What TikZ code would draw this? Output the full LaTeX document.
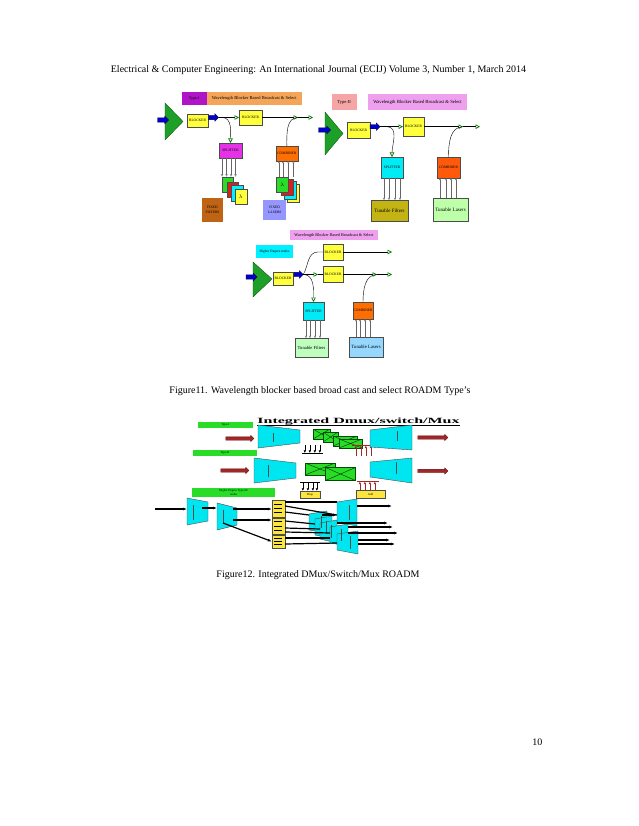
\documentclass[tikz,border=0pt]{standalone}
\usepackage{fontspec}
\setmainfont{Liberation Serif}
\usetikzlibrary{shapes.arrows,arrows.meta,calc}
\definecolor{typeone}{RGB}{176,20,200}
\definecolor{wborange}{RGB}{245,165,90}
\definecolor{typetwo}{RGB}{245,165,165}
\definecolor{wbviolet}{RGB}{238,160,238}
\definecolor{blkyellow}{RGB}{255,255,60}
\definecolor{splmag}{RGB}{230,50,230}
\definecolor{splcyan}{RGB}{0,235,245}
\definecolor{combor}{RGB}{255,110,0}
\definecolor{combred}{RGB}{255,90,10}
\definecolor{fixbrown}{RGB}{190,100,20}
\definecolor{fixlav}{RGB}{150,150,255}
\definecolor{tfolive}{RGB}{195,180,20}
\definecolor{tlgreen}{RGB}{190,255,170}
\definecolor{tfgreen}{RGB}{190,255,190}
\definecolor{tlblue}{RGB}{150,215,255}
\definecolor{hdcyan}{RGB}{0,240,255}
\definecolor{ampgreen}{RGB}{30,160,40}
\definecolor{arrblue}{RGB}{0,0,200}
\definecolor{tipgreen}{RGB}{0,120,0}
\definecolor{swgreen}{RGB}{40,220,40}
\definecolor{trapcyan}{RGB}{0,230,240}
\definecolor{redarr}{RGB}{160,40,40}
\definecolor{ycol}{RGB}{250,230,60}
\definecolor{lred}{RGB}{220,30,30}
\tikzset{
  wh/.style 2 args={minimum width=#1pt, minimum height=#2pt},
  box/.style={draw=black!70, line width=0.3pt, inner sep=0pt, outer sep=0pt, align=center, font=\fontsize{3.6}{4}\selectfont},
  tag/.style={fill=#1, inner sep=0pt, outer sep=0pt, align=center},
  amp/.style={draw=green!30!black, fill=ampgreen, line width=0.3pt},
  barr/.style={single arrow, draw=blue!30!black, fill=arrblue, minimum height=#1pt, inner sep=2pt, single arrow head extend=1.6pt, line width=0.3pt},
  rarr/.style={single arrow, draw=red!40!black, fill=redarr, minimum height=#1pt, inner sep=1.5pt, single arrow head extend=1.5pt, line width=0.3pt},
  gline/.style={draw=black, line width=0.4pt, -{Triangle[open, length=4.5pt, width=4.5pt, line width=0.7pt, color=tipgreen]}},
  hline/.style={draw=black, line width=0.4pt},
  warr/.style={draw=black!60, line width=0.3pt, -{Triangle[open, length=2.2pt, width=2.2pt]}},
  sw/.style={draw=green!30!black, fill=swgreen, line width=0.4pt, inner sep=0pt, path picture={\draw[green!20!black, line width=0.4pt] (path picture bounding box.north west) -- (path picture bounding box.south east) (path picture bounding box.south west) -- (path picture bounding box.north east);}},
  trap/.style={draw=black!70, fill=trapcyan, line width=0.4pt},
  inner/.style={draw=black!70, line width=0.6pt},
  lab/.style={fill=swgreen, inner sep=0pt, align=center, font=\fontsize{3}{3.4}\selectfont},
  ybox/.style={draw=black!70, fill=ycol, line width=0.3pt, inner sep=0pt, font=\fontsize{3}{3.4}\selectfont},
  bar/.style={fill=black, inner sep=0pt, minimum height=0.8pt},
  rbar/.style={fill=redarr, inner sep=0pt, minimum height=0.8pt},
  darr/.style={draw=black, line width=0.6pt, -{Latex[length=2.5pt, width=2.5pt]}},
  rup/.style={draw=redarr, line width=0.6pt, -{Latex[length=2.5pt, width=2.5pt]}},
  thk/.style={draw=black, line width=1.2pt},
  thka/.style={draw=black, line width=1.2pt, -{Latex[length=4pt, width=3pt]}}
}
\begin{document}
\begin{tikzpicture}[x=1pt,y=-1pt]
\useasboundingbox (0,0) rectangle (638,826);
\fill[white] (0,0) rectangle (638,826);
\node[font=\fontsize{10}{12}\selectfont] (head) at (318.5,70) {Electrical \& Computer Engineering: An International Journal (ECIJ) Volume 3, Number 1, March 2014};

% Type-I
\node[tag=typeone, wh={25}{13}, font=\fontsize{4}{4.5}\selectfont] (t1lab) at (194.2,98.3) {Type-I};
\node[tag=wborange, wh={95}{13}, font=\fontsize{4.5}{5}\selectfont] (t1ttl) at (254.2,98.3) {Wavelength Blocker Based Broadcast \& Select};
\draw[amp] (165,103) -- (183,121.5) -- (165,140) -- cycle;
\node[barr=11] (b1in) at (162,120) {};
\node[box, wh={21.6}{12.4}, fill=blkyellow] (blk1a) at (197.5,120.5) {BLOCKER};
\node[barr=10] (b1out) at (212.5,117.5) {};
\node[box, wh={23}{15}, fill=blkyellow] (blk1b) at (250.5,117.5) {BLOCKER};
\coordinate (t1d) at (222,117.5);
\coordinate (t1m) at (298,117.5);
\coordinate (t1e) at (313,117.5);
\draw[gline] (b1out.east) -- (blk1b.west);
\draw[gline] (blk1b.east) -- (t1m);
\draw[gline] (t1m) -- (t1e);
\node[box, wh={23}{15}, fill=splmag] (spl1) at (230.5,150.5) {SPLITTER};
\draw[gline] (t1d) to[out=0,in=90] (spl1.north);
\node[box, wh={11.6}{15.6}, fill=swgreen] (f1g) at (227.5,184.5) {};
\node[box, wh={11.6}{15}, fill=lred] (f1r) at (232.5,189.2) {};
\node[box, wh={12}{16}, fill=hdcyan] (f1c) at (236.7,193) {};
\node[box, wh={11.7}{15}, fill=blkyellow, font=\fontsize{5}{5}\selectfont] (f1y) at (240.8,196.5) {$\lambda$};
\foreach \d in {3,7.5,12,16.5}
  \draw[warr] ([xshift=\d pt]spl1.south west) -- ([xshift=\d pt]spl1.south west |- f1g.north);
\node[tag=fixbrown, wh={21.6}{23.4}, font=\fontsize{3.6}{4.4}\selectfont] (fixf) at (212.5,210) {FIXED\\FILTERS};
\node[box, wh={21.7}{15}, fill=combor] (comb1) at (286.8,153.5) {COMBINER};
\draw[hline] (comb1.north) to[out=90,in=180] (t1m);
\node[box, wh={11.7}{18}, fill=blkyellow] (l1y) at (293.2,193.3) {};
\node[box, wh={12}{17.3}, fill=hdcyan] (l1c) at (290,190.3) {};
\node[box, wh={12}{16.7}, fill=lred] (l1r) at (286.7,187.3) {};
\node[box, wh={12.3}{15.6}, fill=swgreen, font=\fontsize{5}{5}\selectfont] (l1g) at (282.2,184.5) {$\lambda$};
\foreach \d in {3,7,12.5,17.5}
  \draw[warr] ([xshift=\d pt]comb1.south west |- l1g.north) -- ([xshift=\d pt]comb1.south west);
\node[tag=fixlav, wh={22.7}{20}, font=\fontsize{3.6}{4.4}\selectfont] (fixl) at (274.7,210) {FIXED\\LASERS};

% Type-II
\node[tag=typetwo, wh={25}{15.7}, font=\fontsize{4.5}{5}\selectfont] (t2lab) at (344.2,102.2) {Type-II};
\node[tag=wbviolet, wh={99}{16}, font=\fontsize{4.7}{5}\selectfont] (t2ttl) at (417.5,102) {Wavelength Blocker Based Broadcast \& Select};
\draw[amp] (325,112) -- (343,133.5) -- (325,155) -- cycle;
\node[barr=12] (b2in) at (323.5,130) {};
\node[box, wh={23}{16}, fill=blkyellow] (blk2a) at (358.5,130) {BLOCKER};
\node[barr=10] (b2out) at (374,126.7) {};
\node[box, wh={21}{19}, fill=blkyellow] (blk2b) at (413.5,126.7) {BLOCKER};
\coordinate (t2d) at (387,126.7);
\coordinate (t2m) at (463,126.7);
\coordinate (t2e) at (480,126.7);
\draw[gline] (b2out.east) -- (blk2b.west);
\draw[gline] (blk2b.east) -- (t2m);
\draw[gline] (t2m) -- (t2e);
\node[box, wh={22}{21}, fill=splcyan] (spl2) at (392,167.5) {SPLITTER};
\draw[gline] (t2d) to[out=0,in=90] (spl2.north);
\node[box, wh={37}{21}, fill=tfolive, font=\fontsize{5}{5.5}\selectfont] (tf2) at (389.5,210.5) {Tunable Filters};
\foreach \d in {3,8,14,19}
  \draw[warr] ([xshift=\d pt]spl2.south west) -- ([xshift=\d pt]spl2.south west |- tf2.north);
\node[box, wh={23}{21}, fill=combred] (comb2) at (448.5,167.5) {COMBINER};
\draw[hline] (comb2.north) to[out=90,in=180] (t2m);
\node[box, wh={35}{23}, fill=tlgreen, font=\fontsize{5}{5.5}\selectfont] (tl2) at (450.5,209.5) {Tunable Lasers};
\foreach \d in {3,9,14,19}
  \draw[warr] ([xshift=\d pt]comb2.south west |- tl2.north) -- ([xshift=\d pt]comb2.south west);

% Type-III
\node[tag=wbviolet, wh={88}{10}, font=\fontsize{4.2}{4.5}\selectfont] (t3ttl) at (334,235) {Wavelength Blocker Based Broadcast \& Select};
\node[tag=hdcyan, wh={37}{13}, font=\fontsize{3.5}{4}\selectfont] (hdeg) at (274.5,251.5) {Higher Degree nodes};
\draw[amp] (253,262) -- (272,279) -- (253,297) -- cycle;
\node[barr=11] (b3in) at (250.5,277) {};
\node[box, wh={20}{13}, fill=blkyellow] (blk3a) at (283,278.5) {BLOCKER};
\node[barr=9] (b3out) at (297.5,274.5) {};
\node[box, wh={20}{16}, fill=blkyellow] (blk3b) at (333,252) {BLOCKER};
\node[box, wh={20}{16}, fill=blkyellow] (blk3c) at (333,274.5) {BLOCKER};
\coordinate (t3u) at (318,252);
\coordinate (t3ue) at (392,252);
\coordinate (t3l) at (318,274.5);
\coordinate (t3lm) at (377,274.5);
\coordinate (t3le) at (392,274.5);
\draw[hline] (b3out.east) to[out=60,in=180] (t3u) -- (blk3b.west);
\draw[gline] (blk3b.east) -- (t3ue);
\draw[gline] (b3out.east) -- (t3l);
\draw[hline] (t3l) -- (blk3c.west);
\draw[gline] (blk3c.east) -- (t3lm);
\draw[gline] (t3lm) -- (t3le);
\node[box, wh={21}{18}, fill=splcyan] (spl3) at (313.5,311) {SPLITTER};
\draw[gline] (b3out.east) to[out=0,in=90] (spl3.north);
\node[box, wh={33}{19}, fill=tfgreen, font=\fontsize{4.6}{5}\selectfont] (tf3) at (311.5,347.5) {Tunable Filters};
\foreach \d in {3,7,12,17}
  \draw[warr] ([xshift=\d pt]spl3.south west) -- ([xshift=\d pt]spl3.south west |- tf3.north);
\node[box, wh={20}{17}, fill=combor] (comb3) at (363,310.5) {COMBINER};
\draw[hline] (comb3.north) to[out=90,in=180] (t3lm);
\node[box, wh={34}{20}, fill=tlblue, font=\fontsize{4.8}{5}\selectfont] (tl3) at (366,347) {Tunable Lasers};
\foreach \d in {3,7,12,17}
  \draw[warr] ([xshift=\d pt]comb3.south west |- tl3.north) -- ([xshift=\d pt]comb3.south west);

\node[font=\fontsize{10}{12}\selectfont] (cap1) at (320,391) {Figure11. Wavelength blocker based broad cast and select ROADM Type’s};

% Integrated DMux/Switch/Mux
\node[inner sep=0pt, font=\bfseries\fontsize{10}{10}\selectfont] (f2ttl) at (358.5,421.5) {\scalebox{1.6}[0.8]{Integrated Dmux/switch/Mux}};
\draw[line width=0.6pt] (f2ttl.south west) -- (f2ttl.south east);
\node[lab, wh={55}{6}] (g1) at (225.5,425) {Type-I};
\node[rarr=28] (r1in) at (239,438.5) {};
\draw[trap] (258,425) -- (300,430) -- (300,443) -- (258,448) -- cycle;
\draw[inner] (273,433) -- (273,442);
\node[sw, wh={17}{10}] (s1a) at (321.5,434) {};
\node[sw, wh={15}{10}] (s1b) at (330.5,437) {};
\node[sw, wh={24}{10}] (s1c) at (345,441) {};
\node[sw, wh={23}{9}] (s1d) at (350.5,443.5) {};
\node[bar, wh={21}{0.8}] (k1) at (312.5,453.5) {};
\foreach \d in {3,8,13,18}
  \draw[darr] ([xshift=\d pt, yshift=8pt]k1.north west) -- ([xshift=\d pt]k1.north west);
\node[rbar, wh={23}{0.8}] (k2) at (363.5,445) {};
\foreach \d in {4,9,14,19}
  \draw[rup] ([xshift=\d pt, yshift=-10pt]k2.south west) -- ([xshift=\d pt]k2.south west);
\draw[trap] (370,430) -- (412,425) -- (412,450) -- (370,447) -- cycle;
\draw[inner] (397,431) -- (397,441);
\node[rarr=30] (r1out) at (432,437.5) {};

\node[lab, wh={64}{6}] (g2) at (225,453) {Type-II};
\node[rarr=28] (r2in) at (234,470.5) {};
\draw[trap] (254,458) -- (296,463) -- (296,478) -- (254,483) -- cycle;
\draw[inner] (268,465) -- (268,477);
\node[sw, wh={30}{12}] (s2a) at (320,469) {};
\node[sw, wh={30}{13}] (s2b) at (340.5,474) {};
\node[ybox, wh={20}{7}] (drop) at (310,494.5) {Drop};
\node[bar, wh={20}{0.8}] (k3) at (310,482) {};
\foreach \d in {3,8,13,17}
  \draw[darr] ([xshift=\d pt]drop.north west |- k3.south) -- ([xshift=\d pt]drop.north west);
\node[ybox, wh={29}{8}] (add) at (370.5,494) {Add};
\node[rbar, wh={22}{0.8}] (k4) at (368,481) {};
\foreach \d in {4,9,14,19}
  \draw[rup] ([xshift=\d pt]add.north west) -- ([xshift=\d pt]add.north west |- k4.south);
\draw[trap] (370,462) -- (412,458) -- (412,483) -- (370,477) -- cycle;
\draw[inner] (396,462) -- (396,474);
\node[rarr=30] (r2out) at (432,471) {};

\node[lab, wh={83}{9}] (g3) at (233.5,492.5) {Higher Degree Type-III\\nodes};
\coordinate (src) at (155,509);
\coordinate (q1) at (187,509);
\coordinate (q1o) at (202,508);
\coordinate (q2) at (217,508);
\coordinate (q2a) at (233,509);
\coordinate (q2b) at (233,520);
\coordinate (q2c) at (223,523);
\draw[trap] (187,498) -- (208,502) -- (208,521) -- (187,525) -- cycle;
\draw[inner] (193,505) -- (193,520);
\draw[trap] (217,503) -- (237,508) -- (237,525) -- (217,530) -- cycle;
\draw[inner] (223,510) -- (223,524);
\draw[thka] (src) -- (q1);
\draw[thka] (q1o) -- (q2);
\node[ybox, wh={13}{17}] (yc1) at (278.5,508.5) {};
\node[ybox, wh={13}{16}] (yc2) at (278.5,526) {};
\node[ybox, wh={13}{13}] (yc3) at (278.5,541.5) {};
\foreach \c in {yc1,yc2,yc3}
  \foreach \f in {0.25,0.5,0.75}
    \draw[line width=1pt] ($(\c.north west)!\f!(\c.south west)+(2,0)$) -- +(8,0);
\draw[thka] (q2a) -- (yc1.west |- q2a);
\draw[thka] (q2b) -- (yc2.west |- q2b);
\draw[thka] (q2c) -- (yc3.west);
\draw[trap] (337,502) -- (357,499) -- (357,526) -- (337,522) -- cycle;
\draw[trap] (309,514) -- (327,511) -- (327,533) -- (309,530) -- cycle;
\draw[trap] (315,519) -- (332,516) -- (332,538) -- (315,535) -- cycle;
\draw[trap] (320,523) -- (337,520) -- (337,543) -- (320,539) -- cycle;
\draw[trap] (330,527) -- (348,524) -- (348,546) -- (330,543) -- cycle;
\draw[trap] (337,534) -- (358,531) -- (358,554) -- (337,550) -- cycle;
\foreach \x/\ya/\yb in {349/505/520, 321/516/528, 326/521/533, 331/525/538, 341/529/541, 350/536/549}
  \draw[inner] (\x,\ya) -- (\x,\yb);
\draw[thk] (yc1.east |- 0,502) -- (337,502);
\draw[thk] (yc1.east |- 0,506) -- (337,515);
\draw[thk] (yc1.east |- 0,512) -- (309,515);
\draw[thk] (yc2.east |- 0,521) -- (315,524);
\draw[thk] (yc2.east |- 0,528) -- (320,529);
\draw[thk] (yc2.east |- 0,532) -- (330,533);
\draw[thk] (yc3.east |- 0,538) -- (330,538);
\draw[thk] (yc3.east |- 0,544) -- (337,543);
\draw[thka] (322,515) -- (337,515);
\draw[thka] (357,506) -- (392,506);
\draw[thka] (337,523) -- (388,523);
\draw[thka] (348,527) -- (393,527);
\draw[thka] (348,533) -- (398,533);
\draw[thka] (358,540) -- (390,540);
\draw[thka] (358,544) -- (395,544);

\node[font=\fontsize{10}{12}\selectfont] (cap2) at (318,575) {Figure12. Integrated DMux/Switch/Mux ROADM};
\node[anchor=east, font=\fontsize{10}{12}\selectfont] (pg) at (546,742) {10};
\end{tikzpicture}
\end{document}
